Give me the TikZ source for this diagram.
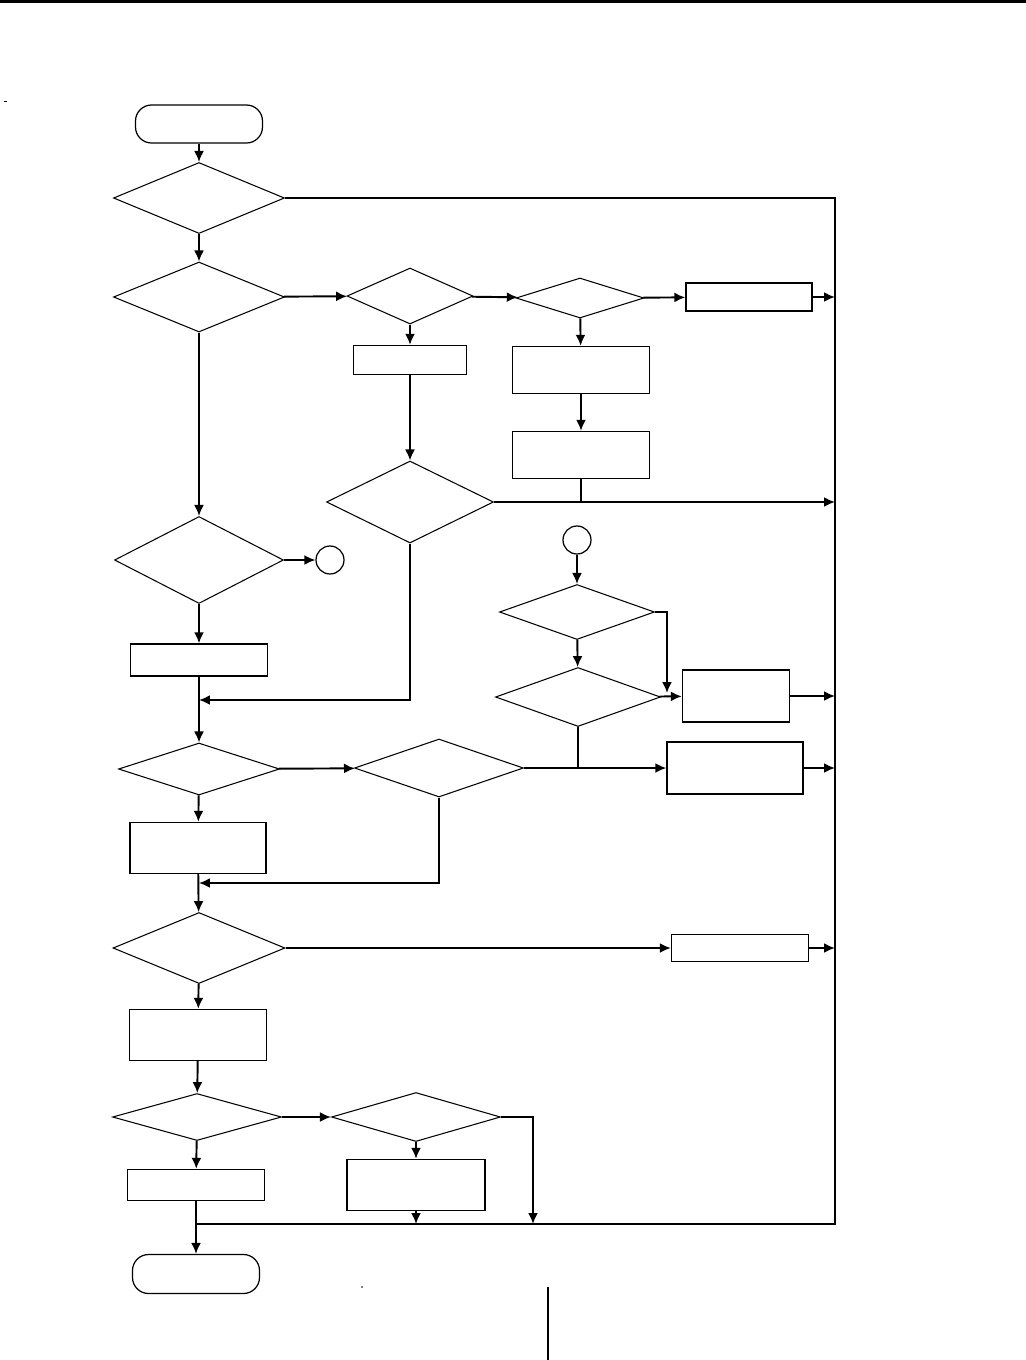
\documentclass[tikz,border=0pt]{standalone}
\usepackage{tikz}
\usetikzlibrary{arrows.meta,positioning,shapes.geometric,calc}

\begin{document}
\begin{tikzpicture}[
  x=0.02cm, y=-0.02cm,
  term/.style={draw, line width=0.7pt, rounded corners=0.32cm, inner sep=0pt},
  dec/.style={draw, diamond, line width=0.6pt, inner sep=0pt},
  proc/.style={draw, rectangle, line width=0.8pt, inner sep=0pt},
  conn/.style={draw, circle, line width=0.7pt, inner sep=0pt, minimum size=0.56cm},
  lnk/.style={-, line width=1.1pt},
  arr/.style={-{Latex[length=2.2mm,width=2mm]}, line width=1.1pt}]
\useasboundingbox (0,0) rectangle (1026,1360);
% page rule and stray marks
\draw[line width=1.7pt] (0,1.5) -- (1026,1.5);
\draw[line width=0.8pt] (548,1287) -- (548,1360);
\draw[line width=0.5pt] (4,101) -- (7,101);
\fill (362,1287) circle (0.5pt);
% left column
\node[term, minimum width=2.54cm, minimum height=0.76cm] (start) at (199,124) {};
\node[dec, minimum width=3.42cm, minimum height=1.42cm] (d1) at (199,198) {};
\node[dec, minimum width=3.42cm, minimum height=1.40cm] (d2) at (199,297) {};
\node[dec, minimum width=3.38cm, minimum height=1.74cm] (d6) at (199,560) {};
\node[conn] (c1) at (330,560) {};
\node[proc, minimum width=2.74cm, minimum height=0.64cm] (r5) at (199,660) {};
\node[dec, minimum width=3.22cm, minimum height=1.04cm] (d7) at (199,769) {};
\node[proc, minimum width=2.72cm, minimum height=1.02cm] (r8) at (198,848) {};
\node[dec, minimum width=3.44cm, minimum height=1.42cm] (d9) at (199,948) {};
\node[proc, minimum width=2.74cm, minimum height=1.02cm] (r10) at (198,1035) {};
\node[dec, minimum width=3.38cm, minimum height=0.94cm] (d12) at (197,1117) {};
\node[proc, minimum width=2.74cm, minimum height=0.62cm] (r11) at (196,1185) {};
\node[term, minimum width=2.54cm, minimum height=0.78cm] (end) at (196,1274) {};
% middle and right
\node[dec, minimum width=2.52cm, minimum height=1.12cm] (d3) at (410,296) {};
\node[dec, minimum width=2.56cm, minimum height=0.80cm] (d4) at (580,298) {};
\node[proc, minimum width=2.52cm, minimum height=0.56cm] (r1) at (749,297) {};
\node[proc, minimum width=2.26cm, minimum height=0.58cm] (r2) at (410,360) {};
\node[proc, minimum width=2.74cm, minimum height=0.94cm] (r3) at (581,370) {};
\node[proc, minimum width=2.74cm, minimum height=0.94cm] (r4) at (581,455) {};
\node[dec, minimum width=3.34cm, minimum height=1.64cm] (d5) at (410,502) {};
\node[conn] (c2) at (577,540) {};
\node[dec, minimum width=3.10cm, minimum height=1.10cm] (d10) at (577,612) {};
\node[dec, minimum width=3.30cm, minimum height=1.18cm] (d11) at (578,697) {};
\node[proc, minimum width=2.14cm, minimum height=1.04cm] (r6) at (736,696) {};
\node[dec, minimum width=3.38cm, minimum height=1.16cm] (d8) at (439,768) {};
\node[proc, minimum width=2.72cm, minimum height=1.04cm] (r7) at (735,768) {};
\node[proc, minimum width=2.74cm, minimum height=0.54cm] (r9) at (740,948) {};
\node[dec, minimum width=3.38cm, minimum height=0.98cm] (d13) at (416,1117) {};
\node[proc, minimum width=2.76cm, minimum height=1.02cm] (r12) at (416,1185) {};
% bus and junction points
\coordinate (busT) at (835,198);
\coordinate (busB) at (835,1224);
\coordinate (busL) at (196,1224);
\coordinate (j1) at (199,700);
\coordinate (j2) at (199,883);
\coordinate (k1) at (667,693);
\coordinate (k2) at (533,1224);
\draw[lnk] (d1.east) -- (busT) -- (busB) -- (busL);
\draw[arr] (start) -- (d1);
\draw[arr] (d1) -- (d2);
\draw[arr] (d2) -- (d3);
\draw[arr] (d3) -- (d4);
\draw[arr] (d4) -- (r1);
\draw[arr] (r1.east) -- (r1.east -| busT);
\draw[arr] (d3) -- (r2);
\draw[arr] (d4) -- (r3);
\draw[arr] (r3) -- (r4);
\draw[arr] (r2) -- (d5);
\draw[arr] (d5.east) -- (d5.east -| busT);
\draw[lnk] (r4.south) -- (r4.south |- d5.east);
\draw[arr] (d5.south) |- (j1);
\draw[arr] (d2) -- (d6);
\draw[arr] (d6) -- (c1);
\draw[arr] (d6) -- (r5);
\draw[arr] (r5) -- (d7);
\draw[arr] (d7) -- (d8);
\draw[arr] (d8) -- (r7);
\draw[arr] (r7.east) -- (r7.east -| busT);
\draw[arr] (d8.south) |- (j2);
\draw[arr] (d7) -- (r8);
\draw[arr] (r8) -- (d9);
\draw[arr] (c2) -- (d10);
\draw[arr] (d10.east) -| (k1);
\draw[arr] (d10) -- (d11);
\draw[arr] (d11) -- (r6);
\draw[arr] (r6.east) -- (r6.east -| busT);
\draw[lnk] (d11.south) -- (d11.south |- d8.east);
\draw[arr] (d9) -- (r9);
\draw[arr] (r9.east) -- (r9.east -| busT);
\draw[arr] (d9) -- (r10);
\draw[arr] (r10) -- (d12);
\draw[arr] (d12) -- (d13);
\draw[arr] (d13.east) -| (k2);
\draw[arr] (d13) -- (r12);
\draw[arr] (r12.south) -- (r12.south |- busL);
\draw[arr] (d12) -- (r11);
\draw[arr] (r11) -- (end);
\end{tikzpicture}
\end{document}
